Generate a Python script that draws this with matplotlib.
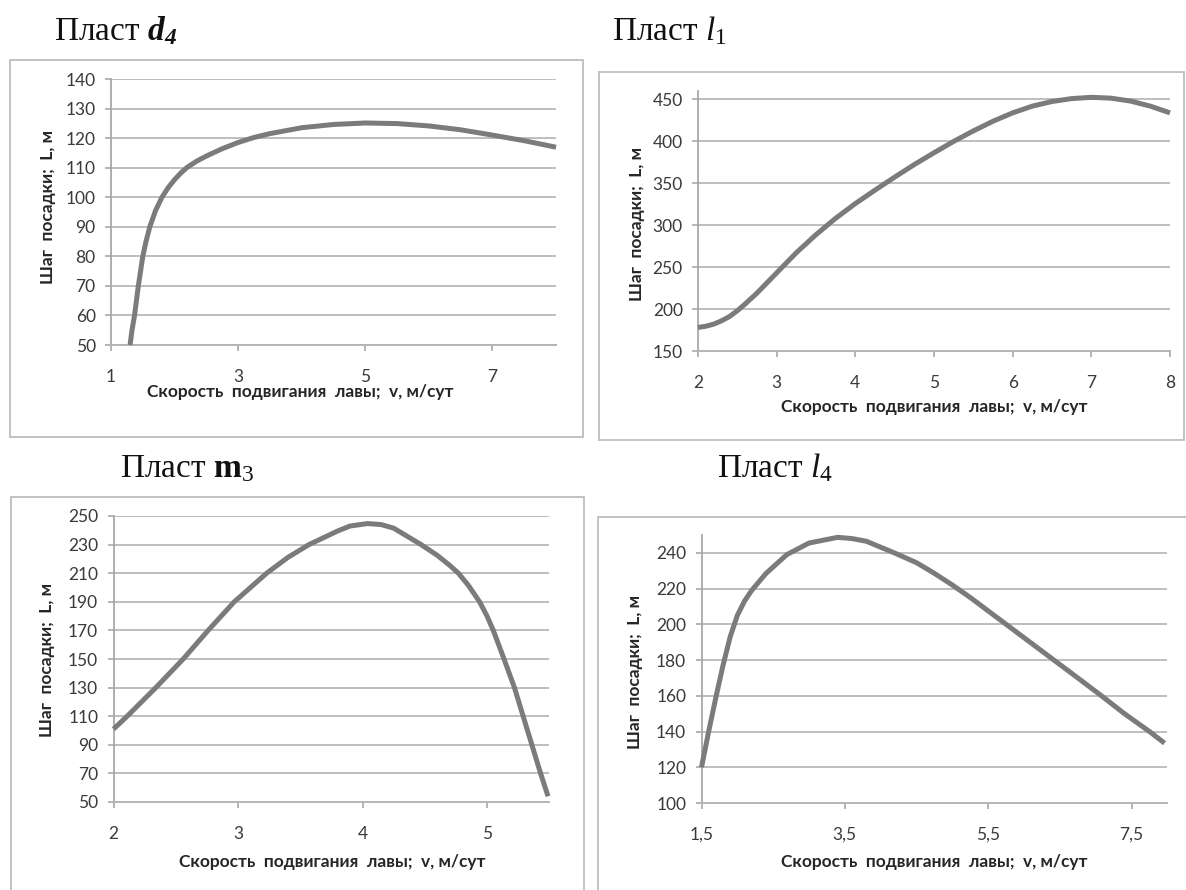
import matplotlib
matplotlib.use("Agg")
import matplotlib.pyplot as plt
from matplotlib.patches import Rectangle

# Пласт d4
d4_v = [1.30, 1.33, 1.37, 1.40, 1.43, 1.465, 1.50, 1.55, 1.61, 1.70, 1.80, 1.90, 2.0,
        2.1, 2.2, 2.35, 2.5, 2.75, 3.0, 3.25, 3.5, 4.0, 4.5, 5.0, 5.5, 6.0, 6.5,
        7.0, 7.5, 8.0]
d4_L = [50, 55, 60, 65, 70, 75, 80, 85, 90, 95.5, 100, 103.3, 106,
        108.3, 110.2, 112.3, 114, 116.5, 118.6, 120.3, 121.6, 123.6, 124.7, 125.2, 125.0, 124.2, 122.9,
        121.1, 119.2, 117.0]

# Пласт l1
l1_v = [2.0, 2.1, 2.2, 2.3, 2.4, 2.5, 2.6, 2.75, 3.0, 3.25, 3.5, 3.75, 4.0, 4.25, 4.5, 4.75,
        5.0, 5.25, 5.5, 5.75, 6.0, 6.25, 6.5, 6.75, 7.0, 7.25, 7.5, 7.75, 8.0]
l1_L = [178, 179.5, 182, 186, 191, 198, 206, 219, 243, 267, 288.5, 308, 325.5, 341.5, 357, 372,
        386, 399.5, 412, 423.5, 433.5, 441.5, 447, 450.5, 452, 451, 447.5, 441.5, 433.5]

# Пласт m3
m3_v = [2.0, 2.11, 2.34, 2.56, 2.76, 2.97, 3.23, 3.4, 3.57, 3.8, 3.9, 4.04, 4.15, 4.25, 4.47,
        4.6, 4.7, 4.77, 4.85, 4.94, 5.0, 5.05, 5.13, 5.22, 5.29, 5.36, 5.43, 5.49]
m3_L = [101, 110, 130, 150, 170, 190, 210, 221, 230, 239.5, 243, 244.7, 244, 241.5, 230,
        222.5, 215.5, 210, 201.5, 190, 180, 170, 151.5, 130, 110, 90, 70, 54]

# Пласт l4
l4_v = [1.5, 1.6, 1.7, 1.8, 1.9, 2.0, 2.1, 2.2, 2.4, 2.69, 3.0, 3.4, 3.6, 3.8,
        4.19, 4.5, 4.75, 5.0, 5.25, 5.5, 5.75, 6.0, 6.4, 6.75, 7.08, 7.4, 7.75, 7.96]
l4_L = [120, 140, 159, 177, 193, 205, 213, 219, 228.5, 239, 245.5, 248.7, 248, 246.5,
        240, 234.5, 228.5, 222, 215, 207.5, 200, 192.5, 180.5, 170, 160, 150, 140, 133.5]

d4_xticks = [1, 3, 5, 7]
l1_xticks = [2, 3, 4, 5, 6, 7, 8]
m3_xticks = [2, 3, 4, 5]
l4_xticks = [1.5, 3.5, 5.5, 7.5]
l4_xticklabels = ["1,5", "3,5", "5,5", "7,5"]

xlabel = "Скорость  подвигания  лавы;  v, м/сут"
ylabel = "Шаг  посадки;  L, м"

W, H = 1186, 890
plt.rcParams['font.family'] = ['Lato', 'DejaVu Sans']
plt.rcParams['mathtext.fontset'] = 'custom'
plt.rcParams['mathtext.rm'] = 'Liberation Serif'
plt.rcParams['mathtext.it'] = 'Liberation Serif:italic'
plt.rcParams['mathtext.bf'] = 'Liberation Serif:bold'
plt.rcParams['mathtext.bfit'] = 'Liberation Serif:italic:bold'

fig = plt.figure(figsize=(W / 100, H / 100), dpi=100)
fig.patch.set_facecolor('white')


def fx(px):
    return px / W


def fy(py):
    return 1 - py / H


def box(x0, y0, x1, y1):
    fig.patches.append(Rectangle((fx(x0), fy(y1)), fx(x1) - fx(x0), fy(y0) - fy(y1),
                                 transform=fig.transFigure, fill=False,
                                 edgecolor='#bdbdbd', linewidth=1.3))


def panel(rect, v, L, xlim, xticks, ylim, yticks, xticklabels=None):
    x0, y0, x1, y1 = rect
    ax = fig.add_axes([fx(x0), fy(y1), fx(x1) - fx(x0), fy(y0) - fy(y1)])
    ax.plot(v, L, color='#7b7b7b', linewidth=3.6, solid_capstyle='butt',
            solid_joinstyle='round', clip_on=False, zorder=3)
    ax.set_xlim(*xlim)
    ax.set_ylim(*ylim)
    ax.set_xticks(xticks)
    if xticklabels is not None:
        ax.set_xticklabels(xticklabels)
    ax.set_yticks(yticks)
    ax.yaxis.grid(True, color='#bebebe', linewidth=1.4)
    ax.set_axisbelow(True)
    for s in ['top', 'right']:
        ax.spines[s].set_visible(False)
    ax.spines['left'].set_color('#a8a8a8')
    ax.spines['bottom'].set_color('#b5b5b5')
    ax.spines['left'].set_linewidth(1.3)
    ax.spines['bottom'].set_linewidth(1.4)
    ax.tick_params(axis='y', length=4, width=1.2, color='#a8a8a8', pad=7,
                   labelsize=12.5, labelcolor='#3a3a3a')
    ax.tick_params(axis='x', length=4, width=1.2, color='#a8a8a8', pad=13,
                   labelsize=12.5, labelcolor='#3a3a3a')
    return ax


# рамки
box(10, 60, 583, 437)
box(599, 72, 1184, 440)
box(11, 497, 584, 895)
box(598, 517, 1188, 895)

panel((111, 79.3, 556, 345), d4_v, d4_L, (1, 8), d4_xticks, (50, 140), range(50, 141, 10))
panel((698, 90.6, 1170, 351), l1_v, l1_L, (2, 8), l1_xticks, (150, 460), range(150, 451, 50))
panel((113.5, 516, 549.3, 802), m3_v, m3_L, (2, 5.5), m3_xticks, (50, 250), range(50, 251, 20))
panel((701.5, 535, 1167.4, 803), l4_v, l4_L, (1.5, 8), l4_xticks, (100, 250), range(100, 241, 20),
      xticklabels=l4_xticklabels)

lab = dict(fontsize=12.5, fontweight='bold', color='#262626', ha='center', va='center')
fig.text(fx(300), fy(392), xlabel, **lab)
fig.text(fx(934), fy(407), xlabel, **lab)
fig.text(fx(332), fy(862), xlabel, **lab)
fig.text(fx(934), fy(862), xlabel, **lab)
fig.text(fx(48), fy(207), ylabel, rotation=90, **lab)
fig.text(fx(637), fy(224), ylabel, rotation=90, **lab)
fig.text(fx(47), fy(660), ylabel, rotation=90, **lab)
fig.text(fx(635), fy(672), ylabel, rotation=90, **lab)

tt = dict(fontsize=24, family='Liberation Serif', color='#111111', ha='left', va='baseline')
fig.text(fx(54), fy(40), r"Пласт $\mathbfit{d}_{\mathbfit{4}}$", **tt)
fig.text(fx(612), fy(40), r"Пласт $l_{1}$", **tt)
fig.text(fx(120), fy(477), r"Пласт $\mathbf{m}_{3}$", **tt)
fig.text(fx(717), fy(477), r"Пласт $l_{4}$", **tt)

fig.savefig("out.png", dpi=100)
